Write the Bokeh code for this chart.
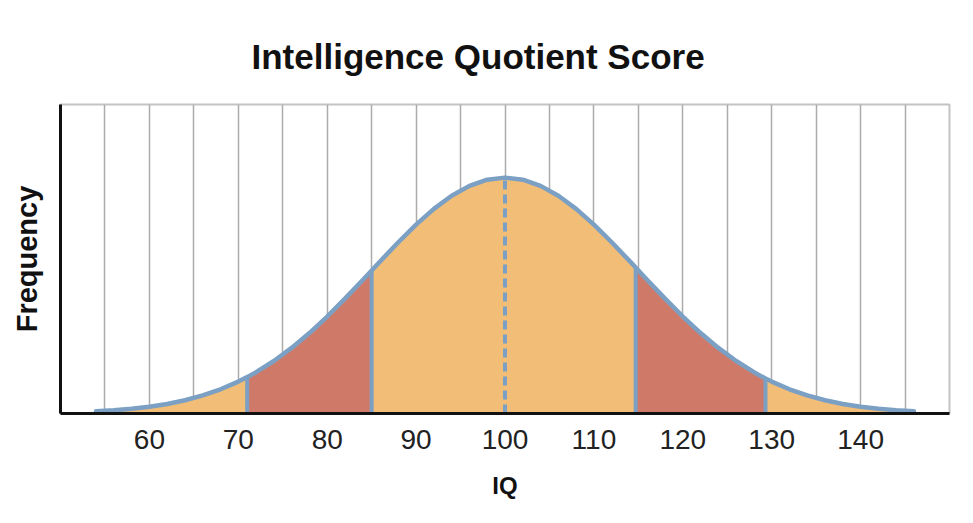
from bokeh.plotting import figure
from bokeh.models import FixedTicker, Range1d
from bokeh.embed import file_html
from bokeh.resources import INLINE

# ---- data ----
IQ = [54, 56, 58, 60, 62, 64, 66, 68, 70, 71, 72, 74, 76, 78, 80, 82, 84, 85, 86, 88,
      90, 92, 94, 96, 98, 100, 102, 104, 106, 108, 110, 112, 114, 114.7, 116, 118, 120,
      122, 124, 126, 128, 129.3, 130, 132, 134, 136, 138, 140, 142, 144, 146]
FREQ = [0.91, 1.35, 1.98, 2.86, 4.04, 5.61, 7.66, 10.27, 13.53, 15.43, 17.51, 22.26,
        27.80, 34.11, 41.11, 48.68, 56.61, 60.65, 64.69, 72.61, 80.07, 86.74, 92.31,
        96.51, 99.12, 100.0, 99.12, 96.51, 92.31, 86.74, 80.07, 72.61, 64.69, 61.87,
        56.61, 48.68, 41.11, 34.11, 27.80, 22.26, 17.51, 14.84, 13.53, 10.27, 7.66,
        5.61, 4.04, 2.86, 1.98, 1.35, 0.91]
BOUNDS = [71, 85, 114.7, 129.3]
MEAN = 100
X_TICKS = [60, 70, 80, 90, 100, 110, 120, 130, 140]
GRID_TICKS = [55, 60, 65, 70, 75, 80, 85, 90, 95, 100, 105, 110, 115, 120, 125, 130, 135, 140, 145]

ORANGE = "#F2BD76"
RED = "#CF7A69"
BLUE = "#7BA0C4"

p = figure(width=957, height=507, output_backend="svg", toolbar_location=None,
           x_range=Range1d(50, 150), y_range=Range1d(0, 131),
           min_border_left=60, min_border_right=8, min_border_top=104, min_border_bottom=94,
           background_fill_color="white", border_fill_color="white")

p.title.text = "Intelligence Quotient Score"
p.title.text_font = "Liberation Sans"
p.title.text_font_style = "bold"
p.title.text_font_size = "35px"
p.title.text_color = "#111111"
p.title.align = "left"
p.title.offset = 191
p.title.standoff = 58

p.outline_line_color = "#c4c4c4"
p.outline_line_width = 2

# grid
p.ygrid.grid_line_color = None
p.xgrid.ticker = FixedTicker(ticks=GRID_TICKS)
p.xgrid.grid_line_color = "#ababab"
p.xgrid.grid_line_width = 1.5

# x axis
xa = p.xaxis[0]
xa.ticker = FixedTicker(ticks=X_TICKS)
xa.axis_line_color = "#111111"
xa.axis_line_width = 3
xa.major_tick_line_color = None
xa.minor_tick_line_color = None
xa.major_tick_out = 0
xa.major_tick_in = 0
xa.major_label_standoff = 16
xa.major_label_text_font = "Liberation Sans"
xa.major_label_text_font_size = "28px"
xa.major_label_text_color = "#222222"
xa.axis_label = "IQ"
xa.axis_label_text_font = "Liberation Sans"
xa.axis_label_text_font_style = "bold"
xa.axis_label_text_font_size = "24px"
xa.axis_label_text_color = "#111111"
xa.axis_label_standoff = 20

# y axis
ya = p.yaxis[0]
ya.ticker = FixedTicker(ticks=[])
ya.axis_line_color = "#111111"
ya.axis_line_width = 3
ya.major_tick_line_color = None
ya.minor_tick_line_color = None
ya.major_label_text_font_size = "0px"
ya.axis_label = "Frequency"
ya.axis_label_text_font = "Liberation Sans"
ya.axis_label_text_font_style = "bold"
ya.axis_label_text_font_size = "29px"
ya.axis_label_text_color = "#111111"
ya.axis_label_standoff = 18

# shaded regions
edges = [IQ[0]] + BOUNDS + [IQ[-1]]
colors = [ORANGE, RED, ORANGE, RED, ORANGE]
for lo, hi, c in zip(edges[:-1], edges[1:], colors):
    xs = [x for x in IQ if lo <= x <= hi]
    ys = [f for x, f in zip(IQ, FREQ) if lo <= x <= hi]
    p.varea(x=xs, y1=[0] * len(xs), y2=ys, fill_color=c, fill_alpha=1.0)

lookup = dict(zip(IQ, FREQ))
p.segment(x0=BOUNDS, y0=[0] * len(BOUNDS), x1=BOUNDS, y1=[lookup[b] for b in BOUNDS],
          line_color=BLUE, line_width=4)
p.segment(x0=[MEAN], y0=[0], x1=[MEAN], y1=[lookup[MEAN]],
          line_color=BLUE, line_width=4, line_dash="9 5")
p.line(IQ, FREQ, line_color=BLUE, line_width=4.5, line_join="round", line_cap="round")

open("out.html", "w").write(file_html(p, INLINE))
